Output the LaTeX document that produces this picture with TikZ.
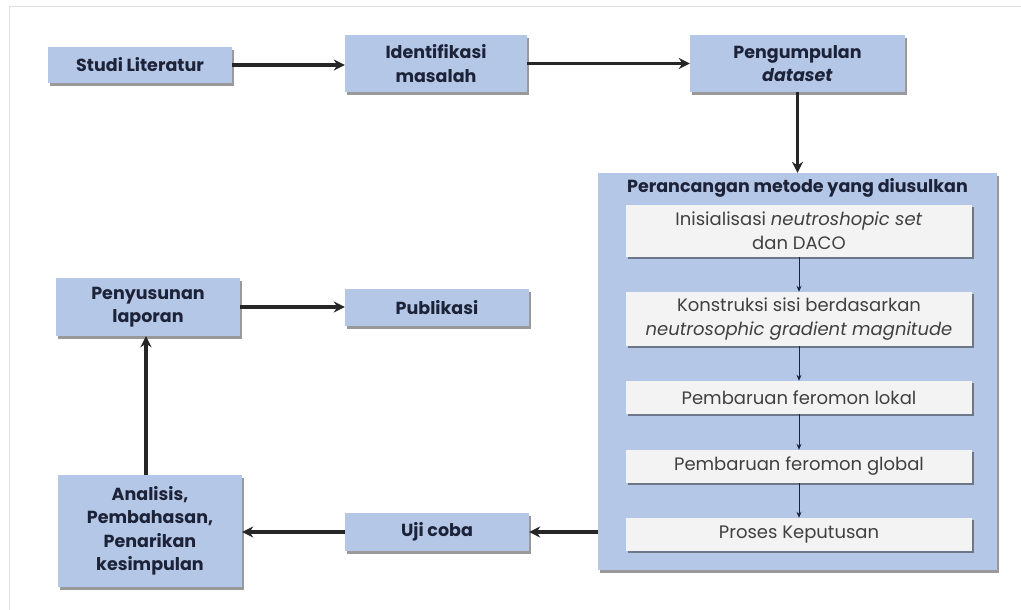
\documentclass[tikz,border=0pt]{standalone}
\usepackage{fontspec}
\setmainfont{Poppins}
\usetikzlibrary{shapes,arrows.meta,positioning,shadows}
\definecolor{boxblue}{RGB}{181,199,230}
\definecolor{stepgray}{RGB}{243,243,243}
\definecolor{inkblue}{RGB}{28,34,56}
\definecolor{framegray}{RGB}{224,224,224}
\def \tu {1pt}

\begin{document}
\begin{tikzpicture}[x=\tu,y=-\tu,
    blok/.style={fill=boxblue,align=center,text=inkblue,inner sep=0pt,
      font=\fontsize{17.5}{23.5}\selectfont\bfseries,
      drop shadow={shadow xshift=2pt,shadow yshift=-3pt,opacity=0.4,fill=black}},
    langkah/.style={fill=stepgray,align=center,text=black!75,inner sep=0pt,
      minimum width=346pt,font=\fontsize{18}{24}\selectfont,
      drop shadow={shadow xshift=2pt,shadow yshift=-2pt,opacity=0.4,fill=black}},
    panah/.style={-{Stealth[length=11pt,width=11pt]},line width=3.2pt,black!85},
    panahkecil/.style={-{Stealth[length=6pt,width=5pt]},line width=1pt,inkblue}]
    \useasboundingbox (0,0) rectangle (1021,610);
    \draw[framegray,line width=1pt] (9,610) -- (9,7) -- (1021,7);
    % alur atas
    \node[blok,minimum width=184pt,minimum height=36pt] (studi) at (140,65) {Studi Literatur};
    \node[blok,minimum width=182pt,minimum height=57pt] (identifikasi) at (436,63.5) {Identifikasi\\masalah};
    \node[blok,minimum width=215pt,minimum height=57pt] (kumpul) at (797.5,63.5) {Pengumpulan\\\textit{dataset}};
    % metode yang diusulkan
    \node[blok,minimum width=399pt,minimum height=397pt] (rancang) at (797.5,371.5) {};
    \node[font=\fontsize{17.5}{22.5}\selectfont\bfseries,text=inkblue] (judul) at (797.5,188) {Perancangan metode yang diusulkan};
    \node[langkah,minimum height=52pt] (inisial) at (799,231) {Inisialisasi \textit{neutroshopic set}\\dan DACO};
    \node[langkah,minimum height=54pt] (sisi) at (799,319) {Konstruksi sisi berdasarkan\\\textit{neutrosophic gradient magnitude}};
    \node[langkah,minimum height=33pt] (lokal) at (799,397.5) {Pembaruan feromon lokal};
    \node[langkah,minimum height=33pt] (global) at (799,466.5) {Pembaruan feromon global};
    \node[langkah,minimum height=33pt] (putus) at (799,534.5) {Proses Keputusan};
    % alur bawah
    \node[blok,minimum width=184pt,minimum height=38pt] (uji) at (437,532) {Uji coba};
    \node[blok,minimum width=184pt,minimum height=112pt] (analisis) at (150,531) {Analisis,\\Pembahasan,\\Penarikan\\kesimpulan};
    \node[blok,minimum width=184pt,minimum height=58pt] (susun) at (148,307) {Penyusunan\\laporan};
    \node[blok,minimum width=184pt,minimum height=37pt] (publik) at (437,307.5) {Publikasi};

    \draw[panah] (studi.east) -- (studi.east -| identifikasi.west);
    \draw[panah] (identifikasi.east) -- (kumpul.west);
    \draw[panah] (kumpul.south) -- (rancang.north);
    \draw[panahkecil] (inisial) -- (sisi);
    \draw[panahkecil] (sisi) -- (lokal);
    \draw[panahkecil] (lokal) -- (global);
    \draw[panahkecil] (global) -- (putus);
    \draw[panah] (uji.east -| rancang.west) -- (uji.east);
    \draw[panah] (uji.west) -- (uji.west -| analisis.east);
    \draw[panah] (analisis.north -| 146,0) -- (susun.south -| 146,0);
    \draw[panah] (susun.east) -- (susun.east -| publik.west);
  \end{tikzpicture}
\end{document}
